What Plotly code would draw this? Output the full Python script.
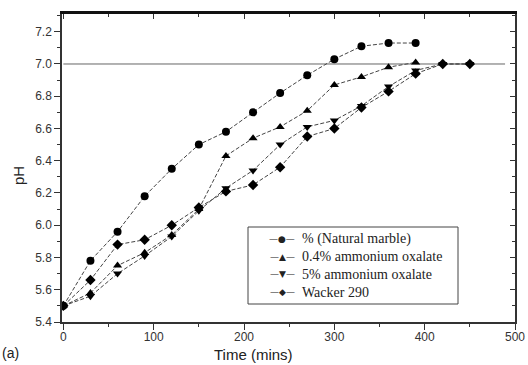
import plotly.graph_objects as go

# Data
time_marble = [0, 30, 60, 90, 120, 150, 180, 210, 240, 270, 300, 330, 360, 390]
ph_marble = [5.50, 5.78, 5.96, 6.18, 6.35, 6.50, 6.58, 6.70, 6.82, 6.93, 7.03, 7.11, 7.13, 7.13]

time_04 = [0, 30, 60, 90, 120, 150, 180, 210, 240, 270, 300, 330, 360, 390]
ph_04 = [5.50, 5.58, 5.75, 5.83, 5.94, 6.10, 6.43, 6.54, 6.61, 6.71, 6.87, 6.92, 6.98, 7.01]

time_5 = [0, 30, 60, 90, 120, 150, 180, 210, 240, 270, 300, 330, 360, 390, 420, 450]
ph_5 = [5.50, 5.56, 5.70, 5.81, 5.93, 6.09, 6.23, 6.34, 6.50, 6.61, 6.65, 6.74, 6.86, 6.96, 7.00, 7.00]

time_wacker = [0, 30, 60, 90, 120, 150, 180, 210, 240, 270, 300, 330, 360, 390, 420, 450]
ph_wacker = [5.50, 5.66, 5.88, 5.91, 6.00, 6.11, 6.21, 6.25, 6.36, 6.55, 6.60, 6.73, 6.83, 6.94, 7.00, 7.00]

series_names = ["% (Natural marble)", "0.4% ammonium oxalate", "5% ammonium oxalate", "Wacker 290"]
series_symbols = ["circle", "triangle-up", "triangle-down", "diamond"]
legend_glyphs = ["●", "▲", "▼", "◆"]

ref_ph = 7.0
ref_time = [0, 489]

x_ticks = [0, 100, 200, 300, 400, 500]
y_ticks = [5.4, 5.6, 5.8, 6.0, 6.2, 6.4, 6.6, 6.8, 7.0, 7.2]

# layout geometry (pixels)
W, H = 528, 365
ML, MR, MT, MB = 62, 13, 14, 43
PW, PH = W - ML - MR, H - MT - MB


def px(xp):
    return (xp - ML) / PW


def py(yp):
    return (H - MB - yp) / PH


fig = go.Figure()

fig.add_trace(go.Scatter(x=ref_time, y=[ref_ph, ref_ph], mode="lines",
                         line=dict(color="#666", width=1), showlegend=False,
                         hoverinfo="skip"))

for xs, ys, name, sym in zip([time_marble, time_04, time_5, time_wacker],
                             [ph_marble, ph_04, ph_5, ph_wacker],
                             series_names, series_symbols):
    fig.add_trace(go.Scatter(
        x=xs, y=ys, mode="lines+markers", name=name, showlegend=False,
        line=dict(color="#444", width=1, dash="4px,2px"),
        marker=dict(symbol=sym, size=8, color="black"),
    ))

# top / right mirror axes with inside ticks
fig.add_trace(go.Scatter(x=[None], y=[None], xaxis="x2", yaxis="y2", showlegend=False))

tickfont = dict(family="Liberation Sans, Arial", size=12, color="#333")

annotations = [
    dict(text="Time (mins)", xref="paper", yref="paper", x=px(253), y=py(364),
         xanchor="center", yanchor="bottom", showarrow=False, borderpad=0,
         font=dict(family="Liberation Sans, Arial", size=15, color="#222")),
    dict(text="pH", xref="paper", yref="paper", x=px(18), y=py(176),
         xanchor="center", yanchor="middle", textangle=-90, showarrow=False,
         font=dict(family="Liberation Sans, Arial", size=15, color="#222")),
    dict(text="(a)", xref="paper", yref="paper", x=px(0), y=py(343),
         xanchor="left", yanchor="top", showarrow=False,
         font=dict(family="Liberation Sans, Arial", size=14, color="#222")),
]

# legend (drawn as box + text rows)
row_y0, row_step = 239, 17.7
for i, (name, glyph) in enumerate(zip(series_names, legend_glyphs)):
    yy = py(row_y0 + i * row_step)
    annotations.append(dict(
        text="\u2014" + glyph + "\u2014", xref="paper", yref="paper", x=px(282), y=yy,
        xanchor="center", yanchor="middle", showarrow=False, borderpad=0,
        font=dict(family="DejaVu Sans", size=9, color="#222")))
    annotations.append(dict(
        text=name, xref="paper", yref="paper", x=px(301), y=yy,
        xanchor="left", yanchor="middle", showarrow=False, borderpad=0,
        font=dict(family="Liberation Serif, Times New Roman", size=14, color="#222")))

shapes = [dict(type="rect", xref="paper", yref="paper",
               x0=px(248), x1=px(458), y0=py(304), y1=py(227),
               line=dict(color="#444", width=1), fillcolor="white", layer="above")]

fig.update_layout(
    width=W, height=H,
    margin=dict(l=ML, r=MR, t=MT, b=MB, autoexpand=False),
    paper_bgcolor="white", plot_bgcolor="white",
    showlegend=False,
    xaxis=dict(
        range=[-1.5, 500], tickvals=x_ticks, ticks="outside", ticklen=6,
        tickcolor="#333", showline=True, linecolor="#333", linewidth=1.5,
        showgrid=False, zeroline=False, tickfont=tickfont, automargin=False,
        ticklabelstandoff=-3,
        minor=dict(dtick=50, tick0=0, ticks="outside", ticklen=3, tickcolor="#333"),
    ),
    yaxis=dict(
        range=[5.4, 7.31], tickvals=y_ticks, tickformat=".1f", ticks="outside",
        ticklen=6, tickcolor="#333", showline=True, linecolor="#333", linewidth=1.5,
        showgrid=False, zeroline=False, tickfont=tickfont, automargin=False,
        minor=dict(dtick=0.1, tick0=5.4, ticks="outside", ticklen=3, tickcolor="#333"),
    ),
    xaxis2=dict(
        overlaying="x", side="top", range=[-1.5, 500], tickvals=x_ticks,
        ticks="inside", ticklen=5, tickcolor="#333", showticklabels=False,
        showline=True, linecolor="#111", linewidth=2.5, showgrid=False, zeroline=False,
        automargin=False,
        minor=dict(dtick=50, tick0=0, ticks="inside", ticklen=3, tickcolor="#333"),
    ),
    yaxis2=dict(
        overlaying="y", side="right", range=[5.4, 7.31], tickvals=y_ticks,
        ticks="inside", ticklen=5, tickcolor="#333", showticklabels=False,
        showline=True, linecolor="#333", linewidth=1.5, showgrid=False, zeroline=False,
        automargin=False,
        minor=dict(dtick=0.1, tick0=5.4, ticks="inside", ticklen=3, tickcolor="#333"),
    ),
    annotations=annotations,
    shapes=shapes,
)

fig.write_html("out.html", config={"displayModeBar": False},
               post_script="document.body.style.margin='0';")
